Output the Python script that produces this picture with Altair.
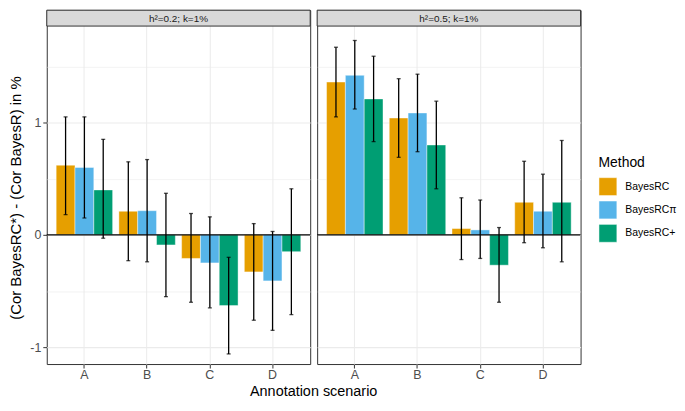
import altair as alt
import pandas as pd

panels = ["h²=0.2; k=1%", "h²=0.5; k=1%"]
scenarios = ["A", "B", "C", "D"]
methods = ["BayesRC", "BayesRCπ", "BayesRC+"]
colors = ["#E69F00", "#56B4E9", "#009E73"]
x_title = "Annotation scenario"

# rows: scenario A..D ; columns: methods
mean_h02 = [[0.62, 0.60, 0.40], [0.21, 0.215, -0.09], [-0.21, -0.25, -0.63], [-0.33, -0.41, -0.15]]
lo_h02 = [[0.18, 0.15, -0.03], [-0.23, -0.24, -0.55], [-0.60, -0.65, -1.06], [-0.76, -0.85, -0.71]]
hi_h02 = [[1.05, 1.05, 0.85], [0.65, 0.67, 0.37], [0.19, 0.16, -0.20], [0.10, 0.03, 0.41]]

mean_h05 = [[1.36, 1.42, 1.21], [1.04, 1.085, 0.80], [0.056, 0.044, -0.27], [0.29, 0.21, 0.29]]
lo_h05 = [[1.05, 1.12, 0.83], [0.69, 0.74, 0.41], [-0.22, -0.21, -0.60], [-0.07, -0.115, -0.24]]
hi_h05 = [[1.67, 1.73, 1.59], [1.39, 1.43, 1.19], [0.33, 0.31, 0.065], [0.655, 0.54, 0.84]]

rows = []
for panel, M, L, H in [(panels[0], mean_h02, lo_h02, hi_h02), (panels[1], mean_h05, lo_h05, hi_h05)]:
    for i, s in enumerate(scenarios):
        for j, m in enumerate(methods):
            rows.append({"panel": panel, "Scenario": s, "Method": m,
                         "mean": M[i][j], "lo": L[i][j], "hi": H[i][j], "xt": x_title})
df = pd.DataFrame(rows)

W = 265
H_CELL = 356
STRIP = 16
GAP = 7

x_enc = alt.X("Scenario:N", sort=scenarios, title=None,
              scale=alt.Scale(paddingInner=0.1, paddingOuter=0.15),
              axis=alt.Axis(labelAngle=0, bandPosition=0.5,
                            grid=True, gridColor="#EBEBEB", gridWidth=1,
                            domain=False, tickColor="#333333", tickSize=4,
                            labelColor="#4D4D4D", labelFontSize=12.5, labelPadding=1))
xo_enc = alt.XOffset("Method:N", sort=methods, scale=alt.Scale(paddingInner=0, paddingOuter=0))
y_scale = alt.Scale(domain=[-1.150, 2.0], nice=False)
y_axis = alt.Axis(title="(Cor BayesRC*) - (Cor BayesR) in %",
                  values=[-1, -0.5, 0, 0.5, 1, 1.5],
                  labelExpr="datum.value % 1 === 0 ? toString(datum.value) : ''",
                  grid=True, gridColor="#EBEBEB",
                  gridWidth={"condition": {"test": "datum.value % 1 !== 0", "value": 0.6}, "value": 1.1},
                  tickOpacity={"condition": {"test": "datum.value % 1 !== 0", "value": 0}, "value": 1},
                  domain=False, tickColor="#333333", tickSize=4,
                  labelColor="#4D4D4D", labelFontSize=12.5, labelPadding=2,
                  titleFontSize=15, titleFontWeight="normal", titleColor="black",
                  titlePadding=6, titleY=188.5)

base = alt.Chart()

bars = base.mark_bar(stroke="white", strokeWidth=0.7, strokeOpacity=0.6).encode(
    x=x_enc, xOffset=xo_enc,
    y=alt.Y("mean:Q", scale=y_scale, axis=y_axis),
    fill=alt.Fill("Method:N", sort=methods,
                  scale=alt.Scale(domain=methods, range=colors),
                  legend=alt.Legend(title="Method", orient="none", legendX=555, legendY=147,
                                    titleFontSize=14, titleFontWeight="normal", titleColor="black",
                                    labelFontSize=10.5, labelColor="black",
                                    symbolType="square", symbolSize=324,
                                    symbolStrokeColor="white", symbolStrokeWidth=0.5,
                                    rowPadding=2.5, labelOffset=8, titlePadding=7)),
)

one_row = (alt.datum.Method == "BayesRC") & (alt.datum.Scenario == "A")
first_panel = one_row & (alt.datum.panel == panels[0])

zero = base.mark_rule(color="black", strokeWidth=1.1).encode(
    y=alt.datum(0)
).transform_filter(one_row)

err = base.mark_rule(color="black", strokeWidth=1.3).encode(
    x=x_enc, xOffset=xo_enc, y=alt.Y("lo:Q"), y2="hi:Q"
)
cap_lo = base.mark_tick(color="black", size=4, thickness=1.3).encode(
    x=x_enc, xOffset=xo_enc, y=alt.Y("lo:Q")
)
cap_hi = base.mark_tick(color="black", size=4, thickness=1.3).encode(
    x=x_enc, xOffset=xo_enc, y=alt.Y("hi:Q")
)

strip = base.mark_rect(fill="#D9D9D9", stroke="#333333", strokeWidth=1).encode(
    x=alt.value(0), x2=alt.value(W), y=alt.value(0), y2=alt.value(STRIP)
).transform_filter(one_row)

strip_text = base.mark_text(fontSize=10, color="#1A1A1A", baseline="middle", align="center").encode(
    x=alt.value(W / 2), y=alt.value(STRIP / 2 + 0.5), text="panel:N"
).transform_filter(one_row)

xtitle = base.mark_text(fontSize=14.5, color="black", baseline="alphabetic", align="center").encode(
    x=alt.value(W + GAP / 2), y=alt.value(H_CELL + 32), text="xt:N"
).transform_filter(first_panel)

layered = alt.layer(bars, zero, err, cap_lo, cap_hi, strip, strip_text, xtitle).properties(
    width=W, height=H_CELL
)

chart = layered.facet(
    data=df,
    column=alt.Column("panel:N", sort=panels, title=None, header=alt.Header(labels=False)),
    spacing=GAP,
).properties(
    bounds="flush",
    padding={"left": 0, "top": 0, "right": 0, "bottom": 0},
).configure(
    font="Liberation Sans"
).configure_view(
    stroke="#333333", strokeWidth=1
)

chart.save("out.html", embed_options={"renderer": "svg", "actions": False})
